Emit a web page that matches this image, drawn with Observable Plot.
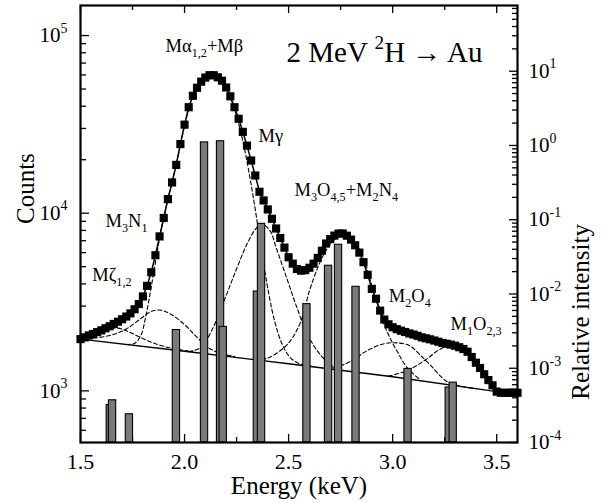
<!DOCTYPE html>
<html><head><meta charset="utf-8">
<script src="https://cdn.jsdelivr.net/npm/d3@7"></script>
<script src="https://cdn.jsdelivr.net/npm/@observablehq/plot@0.6"></script>
<style>
body{margin:0;background:#fff;}
#chart{position:relative;width:606px;height:503px;}
#chart svg{position:absolute;left:0;top:0;}
</style></head><body><div id="chart"></div>
<script>
// measured spectrum (squares) and fit
const energy = [1.50,1.52,1.54,1.56,1.58,1.60,1.62,1.64,1.66,1.68,1.70,1.72,1.74,1.76,1.78,1.80,1.82,1.84,1.86,1.88,
1.90,1.92,1.94,1.96,1.98,2.00,2.02,2.04,2.06,2.08,2.10,2.12,2.14,2.16,2.18,2.20,2.22,2.24,2.26,2.28,
2.30,2.32,2.34,2.36,2.38,2.40,2.42,2.44,2.46,2.48,2.50,2.52,2.54,2.56,2.58,2.60,2.62,2.64,2.66,2.68,
2.70,2.72,2.74,2.76,2.78,2.80,2.82,2.84,2.86,2.88,2.90,2.92,2.94,2.96,2.98,3.00,3.02,3.04,3.06,3.08,
3.10,3.12,3.14,3.16,3.18,3.20,3.22,3.24,3.26,3.28,3.30,3.32,3.34,3.36,3.38,3.40,3.42,3.44,3.46,3.48,
3.50,3.52,3.54,3.56,3.58,3.60];
const counts = [1955,2000,2050,2090,2140,2190,2250,2310,2380,2450,2530,2620,2730,2880,3080,3400,3900,4650,5800,7400,
9400,12000,14900,18700,24500,31500,39500,45800,50800,55000,58000,59800,59800,58200,55700,51000,45500,39500,34000,28700,
24000,19800,16300,13200,11800,10500,9300,8200,7250,6400,5650,5200,4850,4750,4780,4930,5200,5600,6150,6750,
7150,7480,7680,7690,7470,7100,6600,6000,5300,4500,3750,3300,2830,2520,2370,2280,2225,2180,2145,2105,
2075,2040,2000,1975,1950,1920,1890,1860,1840,1820,1795,1760,1720,1660,1550,1440,1345,1240,1150,1075,
990,975,975,975,978,975];

// fitted components (dashed) and background (solid), [energy, counts]
const background = [[1.5,1955],[2.0,1670],[2.5,1420],[3.0,1200],[3.5,990]];
const compMzeta = [[1.50,1960],[1.56,2060],[1.62,2200],[1.67,2260],[1.72,2180],[1.78,2020],[1.84,1880],[1.90,1780],[1.97,1710],[2.04,1660]];
const compM3N1 = [[1.50,1955],[1.58,1990],[1.66,2080],[1.72,2230],[1.78,2500],[1.84,2800],[1.88,2850],[1.93,2720],[2.00,2360],[2.06,2000],[2.12,1730],[2.18,1620],[2.24,1560]];
const compMalpha = [[1.72,1825],[1.76,1850],[1.79,2050],[1.81,2500],[1.83,3300],[1.85,4500],[1.87,6200],[1.89,8300],[1.92,12000],[1.96,18700],[2.00,31000],[2.04,45500],[2.08,55000],[2.12,59500],[2.16,58000],[2.20,50500],[2.24,38500],[2.28,25500],[2.32,14500],[2.36,7400],[2.39,4400],[2.43,2550],[2.47,1820],[2.51,1530],[2.56,1410],[2.62,1370]];
const compMgamma = [[2.02,1660],[2.08,1760],[2.13,2180],[2.19,3210],[2.24,4540],[2.30,6700],[2.34,8100],[2.37,8690],[2.41,8000],[2.44,6410],[2.49,4350],[2.54,2940],[2.59,2085],[2.65,1610],[2.72,1340]];
const compM3O = [[2.34,1495],[2.40,1530],[2.48,1760],[2.52,2000],[2.56,2480],[2.60,3650],[2.64,4940],[2.67,5900],[2.71,6900],[2.75,7500],[2.78,7450],[2.82,6800],[2.86,5600],[2.89,4300],[2.92,3250],[2.97,2200],[3.02,1680],[3.07,1350],[3.13,1160]];
const compM2O4 = [[2.72,1330],[2.80,1470],[2.88,1690],[2.95,1830],[3.01,1865],[3.08,1800],[3.13,1600],[3.18,1400],[3.26,1130],[3.33,1060],[3.40,1030]];
const compM1O = [[2.98,1210],[3.07,1300],[3.16,1500],[3.23,1720],[3.29,1820],[3.33,1790],[3.37,1600],[3.41,1400],[3.45,1190],[3.49,1020],[3.52,985]];
const components = [compMzeta, compM3N1, compMalpha, compMgamma, compM3O, compM2O4, compM1O];

// relative intensities (bars, right axis)
const barEnergy = [1.643,1.654,1.735,1.961,2.096,2.173,2.186,2.350,2.370,2.588,2.692,2.740,2.824,3.074,3.272,3.291];
const barIntensity = [3.2e-4,3.7e-4,2.4e-4,3.27e-3,1.10,1.14,3.6e-3,1.08e-2,8.8e-2,7.3e-3,2.4e-2,4.6e-2,1.25e-2,9.8e-4,5.5e-4,6.4e-4];

// ticks
const xMajor = [1.5,2.0,2.5,3.0,3.5];
const xMinor = [1.75,2.25,2.75,3.25];
const countDecades = [1e3,1e4,1e5];
const relDecades = [1e-4,1e-3,1e-2,1e-1,1e0,1e1];

// annotations: text, energy, counts (baseline start)
const labels = [
  {t:"M\u03b1_{1,2}+M\u03b2", e:1.9085, c:80590},
  {t:"M\u03b3", e:2.3554, c:25100},
  {t:"M_{3}O_{4,5}+M_{2}N_{4}", e:2.5284, c:12420},
  {t:"M_{3}N_{1}", e:1.6201, c:8340},
  {t:"M\u03b6_{1,2}", e:1.5562, c:4127},
  {t:"M_{2}O_{4}", e:2.9815, c:3156},
  {t:"M_{1}O_{2,3}", e:3.278, c:2187}
];
const title = [{t:"2 MeV ^{2}H \u2192 Au", e:2.490, c:70530}];

const W=606, H=503, mL=80, mR=89, mT=5, mB=61;
const pw=W-mL-mR, ph=H-mT-mB;
const FONT="'Liberation Serif','Times New Roman',serif";
const countDomain=[512,147600], relDomain=[1e-4,76.7];
const minorOf=(decs,dom)=>decs.flatMap(d=>[2,3,4,5,6,7,8,9].map(k=>k*d/10)).concat(decs.map(d=>d*10).flatMap(d=>[2,3,4,5,6,7,8,9].map(k=>k*d/10))).filter(v=>v>dom[0]&&v<dom[1]);
const countMinor=[...new Set(minorOf([1e3,1e4,1e5,1e6],countDomain))];
const relMinor=[...new Set(minorOf([1e-4,1e-3,1e-2,1e-1,1e0,1e1,1e2],relDomain))];

const spectrum = energy.map((e,i)=>({e, c:counts[i]}));
const bars = barEnergy.map((e,i)=>({e, v:barIntensity[i]}));
const bw = 0.035;
const tickStyle = {stroke:"black", strokeWidth:1.3};

const p1 = Plot.plot({
  width:W, height:H, marginLeft:mL, marginRight:mR, marginTop:mT, marginBottom:mB,
  style:{fontFamily:FONT, background:"transparent", overflow:"visible", color:"black"},
  x:{domain:[1.5,3.6], axis:null},
  y:{type:"log", domain:countDomain, axis:null},
  marks:[
    ...components.map(c=>Plot.line(c,{x:d=>d[0], y:d=>d[1], stroke:"black", strokeWidth:1.1, strokeDasharray:"4,2.5", curve:"catmull-rom"})),
    Plot.line(background,{x:d=>d[0], y:d=>d[1], stroke:"black", strokeWidth:1.4}),
    Plot.line(spectrum,{x:"e", y:"c", stroke:"black", strokeWidth:1.5}),
    Plot.dot(spectrum,{x:"e", y:"c", symbol:"square", r:4.6, fill:"black", stroke:"none"}),
    // x ticks bottom & top (inward)
    Plot.ruleX(xMajor,{x:d=>d, insetTop:ph-8, ...tickStyle}),
    Plot.ruleX(xMinor,{x:d=>d, insetTop:ph-5, ...tickStyle}),
    Plot.ruleX(xMajor,{x:d=>d, insetBottom:ph-8, ...tickStyle}),
    Plot.ruleX(xMinor,{x:d=>d, insetBottom:ph-5, ...tickStyle}),
    // left y ticks
    Plot.ruleY(countDecades,{y:d=>d, insetRight:pw-9, ...tickStyle}),
    Plot.ruleY(countMinor,{y:d=>d, insetRight:pw-6, ...tickStyle}),
    // tick labels
    Plot.text(xMajor,{x:d=>d, text:d=>d.toFixed(1), frameAnchor:"bottom", lineAnchor:"bottom", dy:26, fontSize:22, fill:"black"}),
    Plot.text(countDecades,{y:d=>d, text:d=>`10^{${Math.round(Math.log10(d))}}`, frameAnchor:"left", textAnchor:"end", lineAnchor:"middle", dx:-13, fontSize:21, fill:"black"}),
    // annotations
    Plot.text(labels,{x:"e", y:"c", text:"t", textAnchor:"start", lineAnchor:"bottom", fontSize:18.5, fill:"black"}),
    Plot.text(title,{x:"e", y:"c", text:"t", textAnchor:"start", lineAnchor:"bottom", fontSize:29, fill:"black"}),
    // axis titles
    Plot.text(["Energy (keV)"],{frameAnchor:"bottom", lineAnchor:"bottom", dy:51, fontSize:25, fill:"black"}),
    Plot.text(["Counts"],{frameAnchor:"left", lineAnchor:"bottom", rotate:-90, dx:-47, fontSize:25, fill:"black"})
  ]
});

const p2 = Plot.plot({
  width:W, height:H, marginLeft:mL, marginRight:mR, marginTop:mT, marginBottom:mB,
  style:{fontFamily:FONT, background:"transparent", overflow:"visible", color:"black"},
  x:{domain:[1.5,3.6], axis:null},
  y:{type:"log", domain:relDomain, axis:null},
  marks:[
    Plot.rect(bars,{x1:d=>d.e-bw/2, x2:d=>d.e+bw/2, y1:relDomain[0], y2:"v", fill:"#7a7a7a", stroke:"black", strokeWidth:1.1}),
    Plot.ruleY(relDecades,{y:d=>d, insetLeft:pw-8, ...tickStyle}),
    Plot.ruleY(relMinor,{y:d=>d, insetLeft:pw-5, ...tickStyle}),
    Plot.text(relDecades,{y:d=>d, text:d=>`10^{${Math.round(Math.log10(d))}}`, frameAnchor:"right", textAnchor:"start", lineAnchor:"middle", dx:11, fontSize:21, fill:"black"}),
    Plot.text(["Relative intensity"],{frameAnchor:"right", lineAnchor:"bottom", rotate:-90, dx:71, fontSize:25, fill:"black"}),
    Plot.frame({stroke:"black", strokeWidth:2.2})
  ]
});

const chart=document.getElementById("chart");
chart.appendChild(p1); chart.appendChild(p2);

function rich(svg){
  svg.querySelectorAll("text").forEach(t=>{
    const s=t.textContent;
    if(!/[_^]\{/.test(s)) return;
    const fs=parseFloat(getComputedStyle(t).fontSize)||16;
    while(t.firstChild) t.removeChild(t.firstChild);
    let shift=0; const re=/([_^])\{([^}]*)\}|([^_^]+)/g; let m;
    while((m=re.exec(s))){
      const sp=document.createElementNS("http://www.w3.org/2000/svg","tspan");
      let target,str;
      if(m[1]){ target = m[1]==="_" ? 0.27*fs : -0.45*fs; str=m[2]; sp.setAttribute("font-size",(0.66*fs).toFixed(1)); }
      else { target=0; str=m[3]; }
      const d=target-shift;
      if(Math.abs(d)>1e-6) sp.setAttribute("dy",d.toFixed(2));
      shift=target; sp.textContent=str; t.appendChild(sp);
    }
  });
}
rich(p1); rich(p2);
</script></body></html>
